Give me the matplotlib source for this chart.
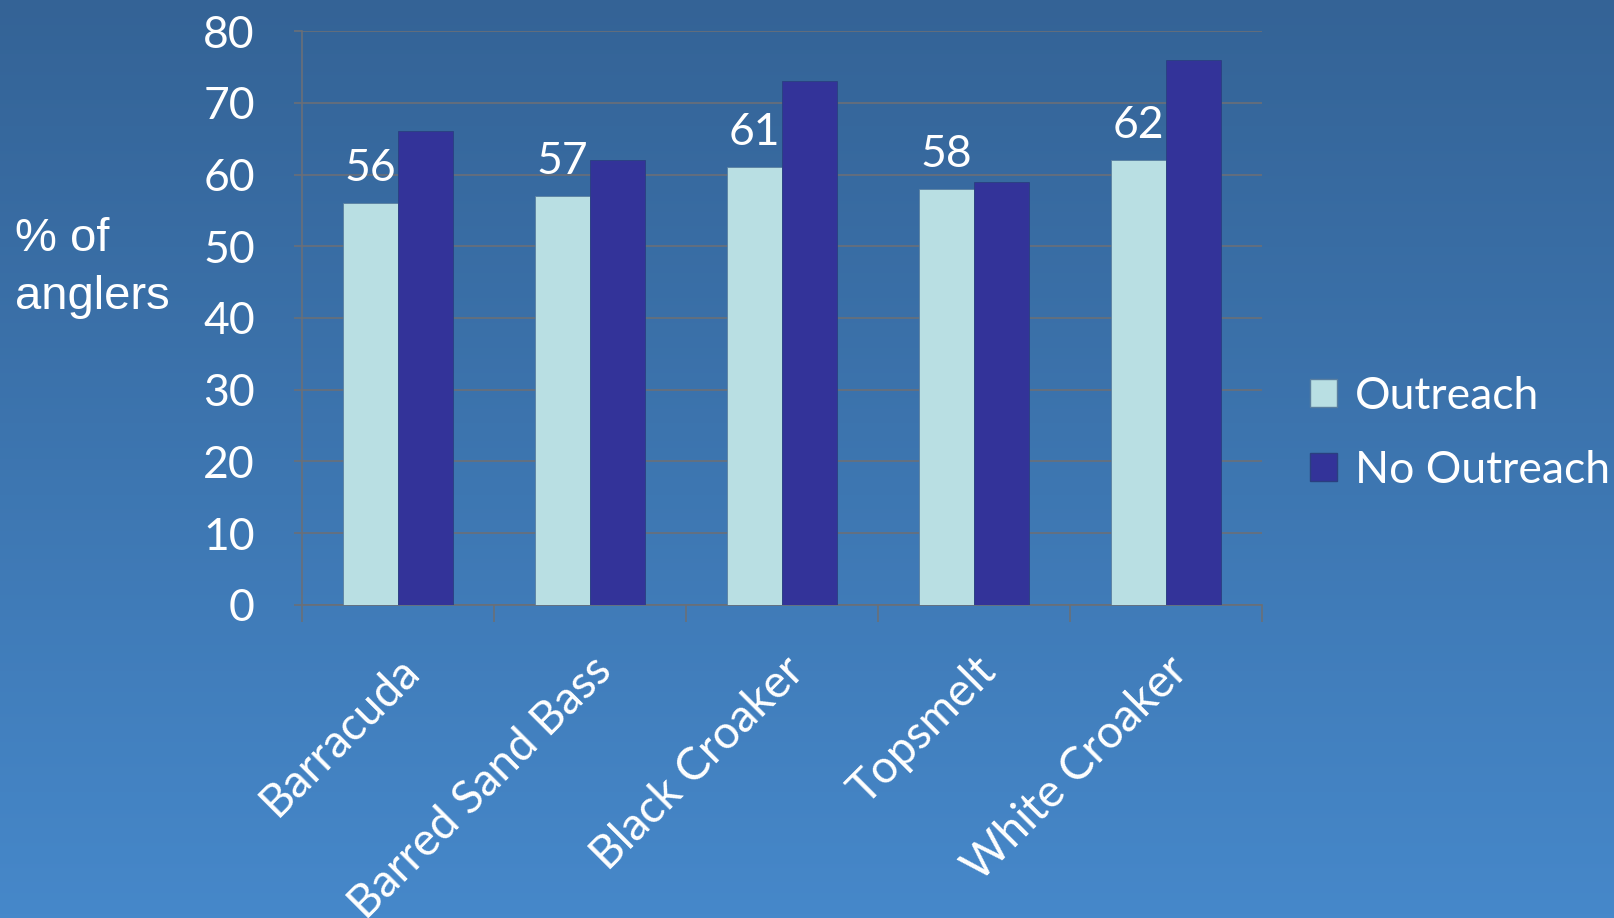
import numpy as np
import matplotlib.pyplot as plt
from matplotlib.patches import Patch

# data
species = ['Barracuda', 'Barred Sand Bass', 'Black Croaker', 'Topsmelt', 'White Croaker']
outreach = [56, 57, 61, 58, 62]
no_outreach = [66, 62, 73, 59, 76]

c_out = '#b9dfe3'
c_no = '#333399'
grid_c = '#6a6f78'
label_font = ['Lato', 'DejaVu Sans']
fs = 32

fig = plt.figure(figsize=(16.14, 9.18), dpi=100)

# gradient background
bg = fig.add_axes([0, 0, 1, 1], zorder=-10)
grad = np.linspace(0, 1, 256).reshape(-1, 1)
top = np.array([0x34, 0x63, 0x96]) / 255
bot = np.array([0x46, 0x88, 0xca]) / 255
img = top + (bot - top) * grad[:, :, None]
bg.imshow(img, aspect='auto', extent=[0, 1, 0, 1])
bg.axis('off')

ax = fig.add_axes([0.1871, 0.3410, 0.5948, 0.6252])
ax.set_facecolor('none')

x = np.arange(len(species))
w = 0.285
b1 = ax.bar(x - w / 2, outreach, w, color=c_out, edgecolor='#5a7fa0', linewidth=0.6, zorder=3)
b2 = ax.bar(x + w / 2, no_outreach, w, color=c_no, edgecolor='#2a3f80', linewidth=0.6, zorder=3)

ax.bar_label(b1, padding=10, color='white', fontsize=fs, family=label_font)

ax.set_xlim(-0.5, len(species) - 0.5)
ax.set_ylim(0, 80)
ax.set_yticks(range(0, 81, 10))
ax.yaxis.grid(True, color=grid_c, linewidth=1.2, zorder=0)

# category boundaries as major ticks, names on minor ticks
ax.set_xticks(np.arange(-0.5, len(species), 1))
ax.set_xticklabels([])
ax.set_xticks(x, minor=True)
ax.set_xticklabels(species, minor=True, rotation=45, ha='right', rotation_mode='anchor',
                   color='white', fontsize=fs + 1, family=label_font)
ax.tick_params(axis='x', which='major', length=12, color=grid_c, width=1.2, direction='out')
ax.tick_params(axis='x', which='minor', length=0, pad=32)
ax.tick_params(axis='y', length=6, color=grid_c, width=1.2, pad=28,
               labelcolor='white', labelsize=fs)
for t in ax.get_yticklabels():
    t.set_family(label_font)

for s in ['top', 'right']:
    ax.spines[s].set_visible(False)
for s in ['left', 'bottom']:
    ax.spines[s].set_color(grid_c)
    ax.spines[s].set_linewidth(1.2)

fig.text(0.009, 0.708, '% of\nanglers', color='white', fontsize=34,
         family='Liberation Sans', va='center', ha='left', linespacing=1.4)

handles = [Patch(facecolor=c_out, edgecolor='#5a7fa0'), Patch(facecolor=c_no, edgecolor='#2a3f80')]
leg = fig.legend(handles, ['Outreach', 'No Outreach'], loc='center left',
                 bbox_to_anchor=(0.787, 0.528), frameon=False,
                 handlelength=0.6, handleheight=0.6, handletextpad=0.4, labelspacing=0.75,
                 prop={'family': label_font, 'size': fs})
for t in leg.get_texts():
    t.set_color('white')

fig.savefig('out.png', dpi=100)
